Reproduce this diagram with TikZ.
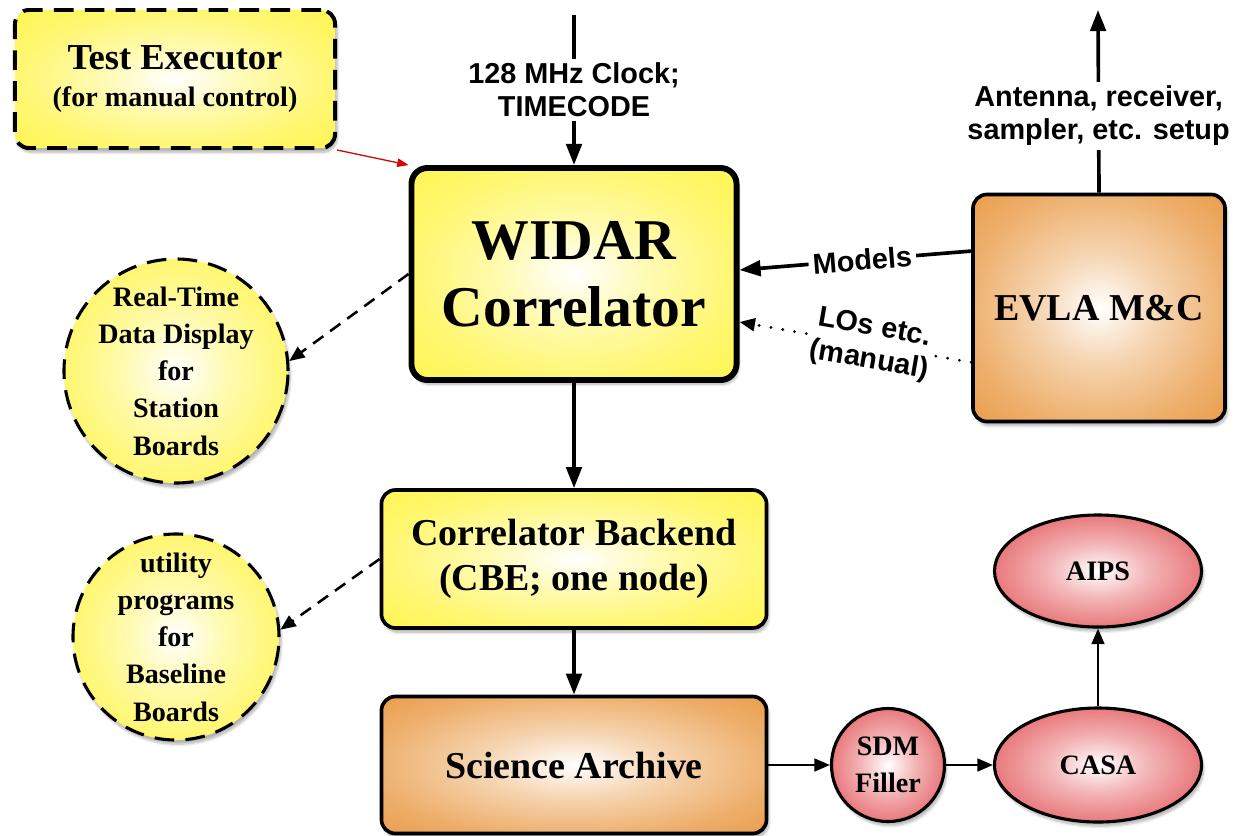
\documentclass[tikz,border=0pt]{standalone}
\usepackage{fontspec}
\setmainfont{Liberation Serif}
\setsansfont{Liberation Sans}
\usetikzlibrary{arrows.meta,shapes.geometric,shadows.blur}

\definecolor{lemon}{HTML}{FFF54C}
\definecolor{amber}{HTML}{E8953C}
\definecolor{rose}{HTML}{E0474C}
\pgfdeclareradialshading{lemonglow}{\pgfpoint{0bp}{0bp}}{color(0bp)=(white);color(12bp)=(lemon!45!white);color(25bp)=(lemon!80!white);color(38bp)=(lemon);color(50bp)=(lemon)}
\pgfdeclareradialshading{amberglow}{\pgfpoint{0bp}{0bp}}{color(0bp)=(white);color(12bp)=(amber!40!white);color(26bp)=(amber!75!white);color(40bp)=(amber);color(50bp)=(amber)}
\pgfdeclareradialshading{roseglow}{\pgfpoint{0bp}{0bp}}{color(0bp)=(white);color(12bp)=(rose!40!white);color(26bp)=(rose!75!white);color(40bp)=(rose);color(50bp)=(rose)}

\tikzset{every picture/.style={line width=2.4pt}}
\tikzset{softshadow/.style={blur shadow={shadow xshift=1.5pt, shadow yshift=-3pt, shadow opacity=30, shadow blur steps=6}}}
\tikzset{box/.style={draw, shade, rounded corners=0.35cm, line width=2.6pt, align=center, font=\bfseries, softshadow}}
\tikzset{lemonbox/.style={box, shading=lemonglow}}
\tikzset{amberbox/.style={box, shading=amberglow}}
\tikzset{bubble/.style={draw, shade, circle, inner sep=-8pt, align=center, line width=2.2pt, softshadow,
  font=\bfseries\fontsize{20}{26.5}\selectfont}}
\tikzset{roseblob/.style={draw, shade, shading=roseglow, ellipse, inner sep=0pt, align=center, line width=2.2pt, softshadow,
  font=\bfseries\fontsize{20}{26}\selectfont}}
\tikzset{longdash/.style={dash pattern=on 14pt off 8pt}}
\tikzset{tag/.style={fill=white, inner sep=3pt, align=center, font=\sffamily\bfseries\fontsize{20.5}{23.5}\selectfont}}
\tikzset{feed/.style={-{Triangle[length=15pt,width=11pt]}, line width=2.6pt}}
\tikzset{thinfeed/.style={-{Triangle[length=11pt,width=9pt]}, line width=1.8pt}}
\tikzset{dashfeed/.style={thinfeed, dash pattern=on 9pt off 6pt}}
\tikzset{dotfeed/.style={thinfeed, line cap=round, line width=2.2pt, dash pattern=on 0pt off 8.5pt}}
\tikzset{redfeed/.style={-{Triangle[length=8pt,width=6pt]}, line width=0.9pt, draw=red!85!black, fill=red!85!black}}

\begin{document}
\begin{tikzpicture}[x=0.025cm,y=-0.025cm]
\useasboundingbox (0,0) rectangle (1233,835);

% main column
\node[lemonbox, longdash, line width=2.8pt, minimum width=8cm, minimum height=3.45cm,
  font=\bfseries\fontsize{20}{26}\selectfont] (tex) at (175,79)
  {{\fontsize{26}{26}\selectfont Test Executor}\\(for manual control)};
\node[lemonbox, line width=4.2pt, rounded corners=0.4cm, minimum width=8.125cm, minimum height=5.3cm,
  font=\bfseries\fontsize{41}{48}\selectfont] (widar) at (574,274) {WIDAR\\Correlator};
\node[lemonbox, minimum width=9.625cm, minimum height=3.45cm,
  font=\bfseries\fontsize{27}{32}\selectfont] (cbe) at (574,559) {Correlator Backend\\(CBE; one node)};
\node[amberbox, minimum width=9.625cm, minimum height=3.425cm,
  font=\bfseries\fontsize{27}{32}\selectfont] (archive) at (574,765) {Science Archive};
\node[amberbox, minimum width=6.3cm, minimum height=5.675cm,
  font=\bfseries\fontsize{27}{32}\selectfont] (evla) at (1099,308) {EVLA M\&C};

% side displays
\node[bubble, longdash, shading=lemonglow, minimum size=5.6cm] (rtd) at (176,371)
  {Real-Time\\Data Display\\for\\Station\\Boards};
\node[bubble, longdash, shading=lemonglow, minimum size=5.15cm] (util) at (176,637)
  {utility\\programs\\for\\Baseline\\Boards};

% offline processing
\node[bubble, shading=roseglow, inner sep=0pt, minimum size=2.825cm,
  font=\bfseries\fontsize{20}{26}\selectfont] (sdm) at (888,765) {SDM\\Filler};
\node[roseblob, minimum width=5.175cm, minimum height=2.85cm] (casa) at (1098,765) {CASA};
\node[roseblob, minimum width=5.175cm, minimum height=2.8cm] (aips) at (1098,571) {AIPS};

% free ends
\coordinate (clock) at (574,15);
\coordinate (setup) at (1098,10);

% connectors
\draw[feed] (clock) -- node[tag] {128 MHz Clock;\\TIMECODE} (widar.north);
\draw[feed] (evla.north) -- node[tag, pos=0.42] {Antenna, receiver,\\sampler, etc. setup} (setup);
\draw[feed] (evla.156) -- node[tag, sloped, pos=0.47] {Models} ([yshift=0.1cm]widar.east);
\draw[dotfeed] (evla.203) -- node[tag, sloped, pos=0.43, inner sep=1pt] {LOs etc.\\(manual)} ([yshift=-1.2cm]widar.east);
\draw[redfeed] (tex.south east) -- (widar.north west);
\draw[dashfeed] (widar.west) -- (rtd.5);
\draw[dashfeed] (cbe.west) -- (util.4);
\draw[feed] (widar.south) -- (cbe.north);
\draw[feed] (cbe.south) -- (archive.north);
\draw[thinfeed] (archive.east) -- (sdm.west);
\draw[thinfeed] (sdm.east) -- (casa.west);
\draw[thinfeed] (casa.north) -- (aips.south);
\end{tikzpicture}
\end{document}
